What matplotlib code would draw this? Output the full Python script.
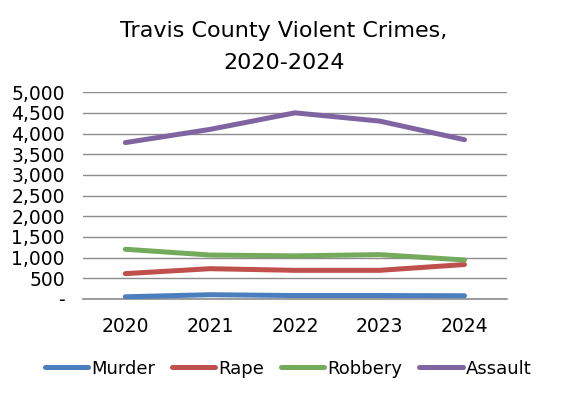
import matplotlib
matplotlib.use('Agg')
import matplotlib.pyplot as plt
import numpy as np

# values
years = ['2020', '2021', '2022', '2023', '2024']
murder = [50, 100, 80, 80, 75]
rape = [610, 730, 690, 690, 830]
robbery = [1200, 1060, 1040, 1070, 940]
assault = [3780, 4100, 4500, 4300, 3850]

series = [('Murder', murder, '#4A7EBE'),
          ('Rape', rape, '#C0504D'),
          ('Robbery', robbery, '#74AA5C'),
          ('Assault', assault, '#8064A2')]

plt.rcParams['font.family'] = 'DejaVu Sans'

fig = plt.figure(figsize=(5.76, 3.99), dpi=100)
ax = fig.add_axes([0.144, 0.251, 0.736, 0.518])

x = np.arange(len(years))
for name, vals, col in series:
    ax.plot(x, vals, color=col, lw=3.6, label=name, solid_capstyle='round', zorder=3)

ax.set_xlim(-0.5, len(years) - 0.5)
ax.set_ylim(0, 5000)
ax.set_yticks(np.arange(0, 5001, 500))
ax.set_yticklabels(['-' if v == 0 else '{:,}'.format(v) for v in range(0, 5001, 500)])
ax.set_xticks(x)
ax.set_xticklabels(years)
ax.grid(axis='y', color='#8c8c8c', lw=1)
ax.axhline(0, color='#8c8c8c', lw=1.2, clip_on=False, zorder=2)
ax.set_axisbelow(True)
for s in ax.spines.values():
    s.set_visible(False)
ax.tick_params(axis='both', length=0, labelsize=13.5)
ax.tick_params(axis='y', pad=13)
ax.tick_params(axis='x', pad=13)

fig.text(0.493, 0.882, 'Travis County Violent Crimes,\n2020-2024', ha='center', va='center',
         fontsize=16, linespacing=1.75)

fig.legend(loc='center', bbox_to_anchor=(0.5, 0.076), ncol=4, frameon=False, fontsize=13,
           handlelength=2.4, handletextpad=0.15, columnspacing=0.95)

fig.savefig('out.png', dpi=100)
